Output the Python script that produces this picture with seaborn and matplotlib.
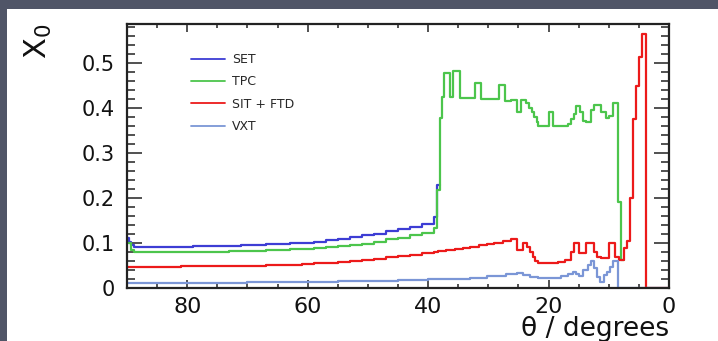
import numpy as np
import pandas as pd
import matplotlib
matplotlib.use("Agg")
import matplotlib.pyplot as plt
import seaborn as sns
from matplotlib.lines import Line2D
from matplotlib.patches import Rectangle
from matplotlib.ticker import MultipleLocator, FixedLocator, FixedFormatter

# ---- material budget per sub-detector (cumulative X0 vs polar angle) ----
set_edges = [90, 89.7, 89.3, 88.8, 87, 85, 83, 81, 79, 77, 75, 73, 71, 69, 67,
             65, 63, 61, 59, 57, 55, 53, 51, 49, 47, 45, 43, 41, 39, 38.5, 38]
set_x0 = [0.110, 0.102, 0.095,
          0.091, 0.091, 0.091, 0.091, 0.091, 0.092, 0.092, 0.093, 0.093, 0.094,
          0.095, 0.096, 0.097, 0.099, 0.100, 0.102, 0.105, 0.108, 0.112, 0.116,
          0.120, 0.125, 0.130, 0.135, 0.142,
          0.158, 0.229]

tpc_edges = [90, 89.3, 88.8, 87, 85, 83, 81, 79, 77, 75, 73, 71, 69, 67, 65, 63,
             61, 59, 57, 55, 53, 51, 49, 47, 45, 43, 41, 39,
             38.5, 38, 37.7, 37.3, 36.3, 35.8, 34.7, 32.2, 31.3, 29.5, 28.2, 27.3,
             26.3, 25.2, 24.6, 23.8, 23.3, 22.8, 22.4, 22.0, 21.7, 20.0, 19.2,
             16.8, 16.3, 15.8, 15.5, 14.7, 14.2, 13.7, 13.0, 12.5, 11.3, 10.5,
             10.0, 9.3, 8.5, 8.0, 7.5]
tpc_x0 = [0.100, 0.084,
          0.079, 0.079, 0.079, 0.079, 0.079, 0.079, 0.080, 0.080, 0.081, 0.081,
          0.082, 0.083, 0.084, 0.085, 0.086, 0.088, 0.090, 0.092, 0.095, 0.098,
          0.102, 0.107, 0.111, 0.116, 0.121,
          0.133, 0.218, 0.377, 0.424, 0.478,
          0.424, 0.482, 0.423, 0.455, 0.421, 0.419, 0.451, 0.416, 0.418, 0.392,
          0.418, 0.410, 0.400, 0.390, 0.379, 0.368, 0.359, 0.390, 0.359, 0.364,
          0.375, 0.386, 0.404, 0.390, 0.372, 0.368, 0.395, 0.406, 0.390, 0.378,
          0.382, 0.410, 0.190, 0.062]

sit_ftd_edges = [90, 87, 85, 83, 81, 79, 77, 75, 73, 71, 69, 67, 65, 63, 61, 59,
                 57, 55, 53, 51, 49, 47, 45, 43, 41, 39, 38.3, 37, 35.5, 34.2, 33,
                 31.5, 30.2, 29, 27.5, 26.3, 25.2, 24.3, 23.5, 23.0, 22.6, 22.2,
                 21.7, 18.5, 17.3, 16.3, 15.8, 15.0, 13.7, 12.5, 12.0, 11.3, 10.0,
                 9.0, 8.3, 7.5, 7.0, 6.5, 6.0, 5.5, 5.0, 4.5, 3.75, 0]
sit_ftd_x0 = [0.046, 0.046, 0.046, 0.046, 0.047, 0.047, 0.047, 0.048, 0.048,
              0.049, 0.049, 0.050, 0.051, 0.051, 0.052, 0.054, 0.055, 0.057,
              0.059, 0.061, 0.064, 0.067, 0.070, 0.073, 0.076, 0.079, 0.081,
              0.083, 0.085, 0.089, 0.091, 0.094, 0.096, 0.099, 0.103, 0.107,
              0.084, 0.100, 0.090, 0.080, 0.068, 0.060, 0.055,
              0.057, 0.062, 0.080, 0.100, 0.077, 0.100, 0.080, 0.068, 0.066,
              0.100, 0.068, 0.061, 0.088, 0.104, 0.200, 0.375, 0.449, 0.513,
              0.565, 0.0]

vxt_edges = [90, 85, 80, 75, 70, 65, 60, 55, 50, 45, 40, 36, 33, 30.2, 27, 25.2,
             24.2, 23.0, 21.8, 18.0, 16.8, 16.0, 15.5, 15.0, 14.2, 13.5, 13.0,
             12.5, 12.0, 11.5, 10.8, 10.3, 9.8, 9.3, 8.5, 0]
vxt_x0 = [0.010, 0.010, 0.011, 0.011, 0.012, 0.012, 0.013, 0.014, 0.015, 0.016,
          0.018, 0.020, 0.022, 0.026, 0.029, 0.032, 0.028, 0.023, 0.021, 0.025,
          0.030, 0.035, 0.030, 0.026, 0.039, 0.050, 0.059, 0.043, 0.024, 0.012,
          0.028, 0.035, 0.046, 0.059, 0.0]

series = [
    ("SET", set_edges, set_x0, "#3d3dd4"),
    ("TPC", tpc_edges, tpc_x0, "#4cc54c"),
    ("SIT + FTD", sit_ftd_edges, sit_ftd_x0, "#ec1a1a"),
    ("VXT", vxt_edges, vxt_x0, "#7b96d6"),
]

y_ticks = [0, 0.1, 0.2, 0.3, 0.4, 0.5]
y_tick_labels = ["0", "0.1", "0.2", "0.3", "0.4", "0.5"]
x_ticks = [0, 20, 40, 60, 80]
x_tick_labels = ["0", "20", "40", "60", "80"]

sns.set_theme(style="white")
plt.rcParams["font.family"] = ["DejaVu Sans"]
plt.rcParams["mathtext.fontset"] = "dejavusans"

W, H = 718, 341
fig = plt.figure(figsize=(W / 100, H / 100), dpi=100)
fig.patch.set_facecolor("#505567")
fig.add_artist(Rectangle((7 / W, 0), 1 - 7 / W, (H - 9) / H,
                         transform=fig.transFigure, facecolor="white",
                         edgecolor="none", zorder=-5))

ax_l, ax_r, ax_t, ax_b = 127, 669, 24, 287.5
ax = fig.add_axes([ax_l / W, (H - ax_b) / H, (ax_r - ax_l) / W, (ax_b - ax_t) / H])
ax.set_facecolor("white")


def draw_steps(edges, values, color):
    e = np.asarray(edges, dtype=float)
    df = pd.DataFrame({"theta": (e[:-1] + e[1:]) / 2,
                       "x0": np.asarray(values, dtype=float)})
    sns.histplot(data=df, x="theta", weights="x0", bins=sorted(e.tolist()),
                 element="step", fill=False, color=color, linewidth=1.6, ax=ax)


for name, edges, vals, col in series:
    draw_steps(edges, vals, col)

ax.set_xlim(90, 0)
ax.set_ylim(0, 0.587)

ax.xaxis.set_major_locator(FixedLocator(x_ticks))
ax.xaxis.set_major_formatter(FixedFormatter(x_tick_labels))
ax.xaxis.set_minor_locator(MultipleLocator(5))
ax.yaxis.set_major_locator(FixedLocator(y_ticks))
ax.yaxis.set_major_formatter(FixedFormatter(y_tick_labels))
ax.yaxis.set_minor_locator(MultipleLocator(0.02))

for s in ax.spines.values():
    s.set_visible(True)
    s.set_color("#222222")
    s.set_linewidth(1.6)

ax.tick_params(axis="both", which="both", direction="in", colors="#222222",
               width=1.1, top=True, right=True, bottom=True, left=True,
               labelcolor="#111111")
ax.tick_params(axis="y", which="major", length=11, labelsize=15, pad=9)
ax.tick_params(axis="y", which="minor", length=5.8)
ax.tick_params(axis="x", which="major", length=5.5, labelsize=16, pad=7)
ax.tick_params(axis="x", which="minor", length=3)

ax.set_xlabel("θ / degrees", fontsize=19, color="#111111", ha="right")
ax.xaxis.set_label_coords(1.0, -0.108)
ax.xaxis.label.set_va("top")

ax.set_ylabel("X$_0$", fontsize=22, color="#111111", loc="top")
ax.yaxis.set_label_coords(-0.135, 1.0)

handles = [Line2D([], [], color=c, linewidth=1.3) for _, _, _, c in series]
labels = [n for n, _, _, _ in series]
ax.legend(handles, labels, loc="upper left", bbox_to_anchor=(0.118, 0.89),
          frameon=False, fontsize=9, handlelength=2.7, handletextpad=0.6,
          labelspacing=0.75, borderaxespad=0, borderpad=0)

fig.savefig("out.png", dpi=100, facecolor=fig.get_facecolor())
